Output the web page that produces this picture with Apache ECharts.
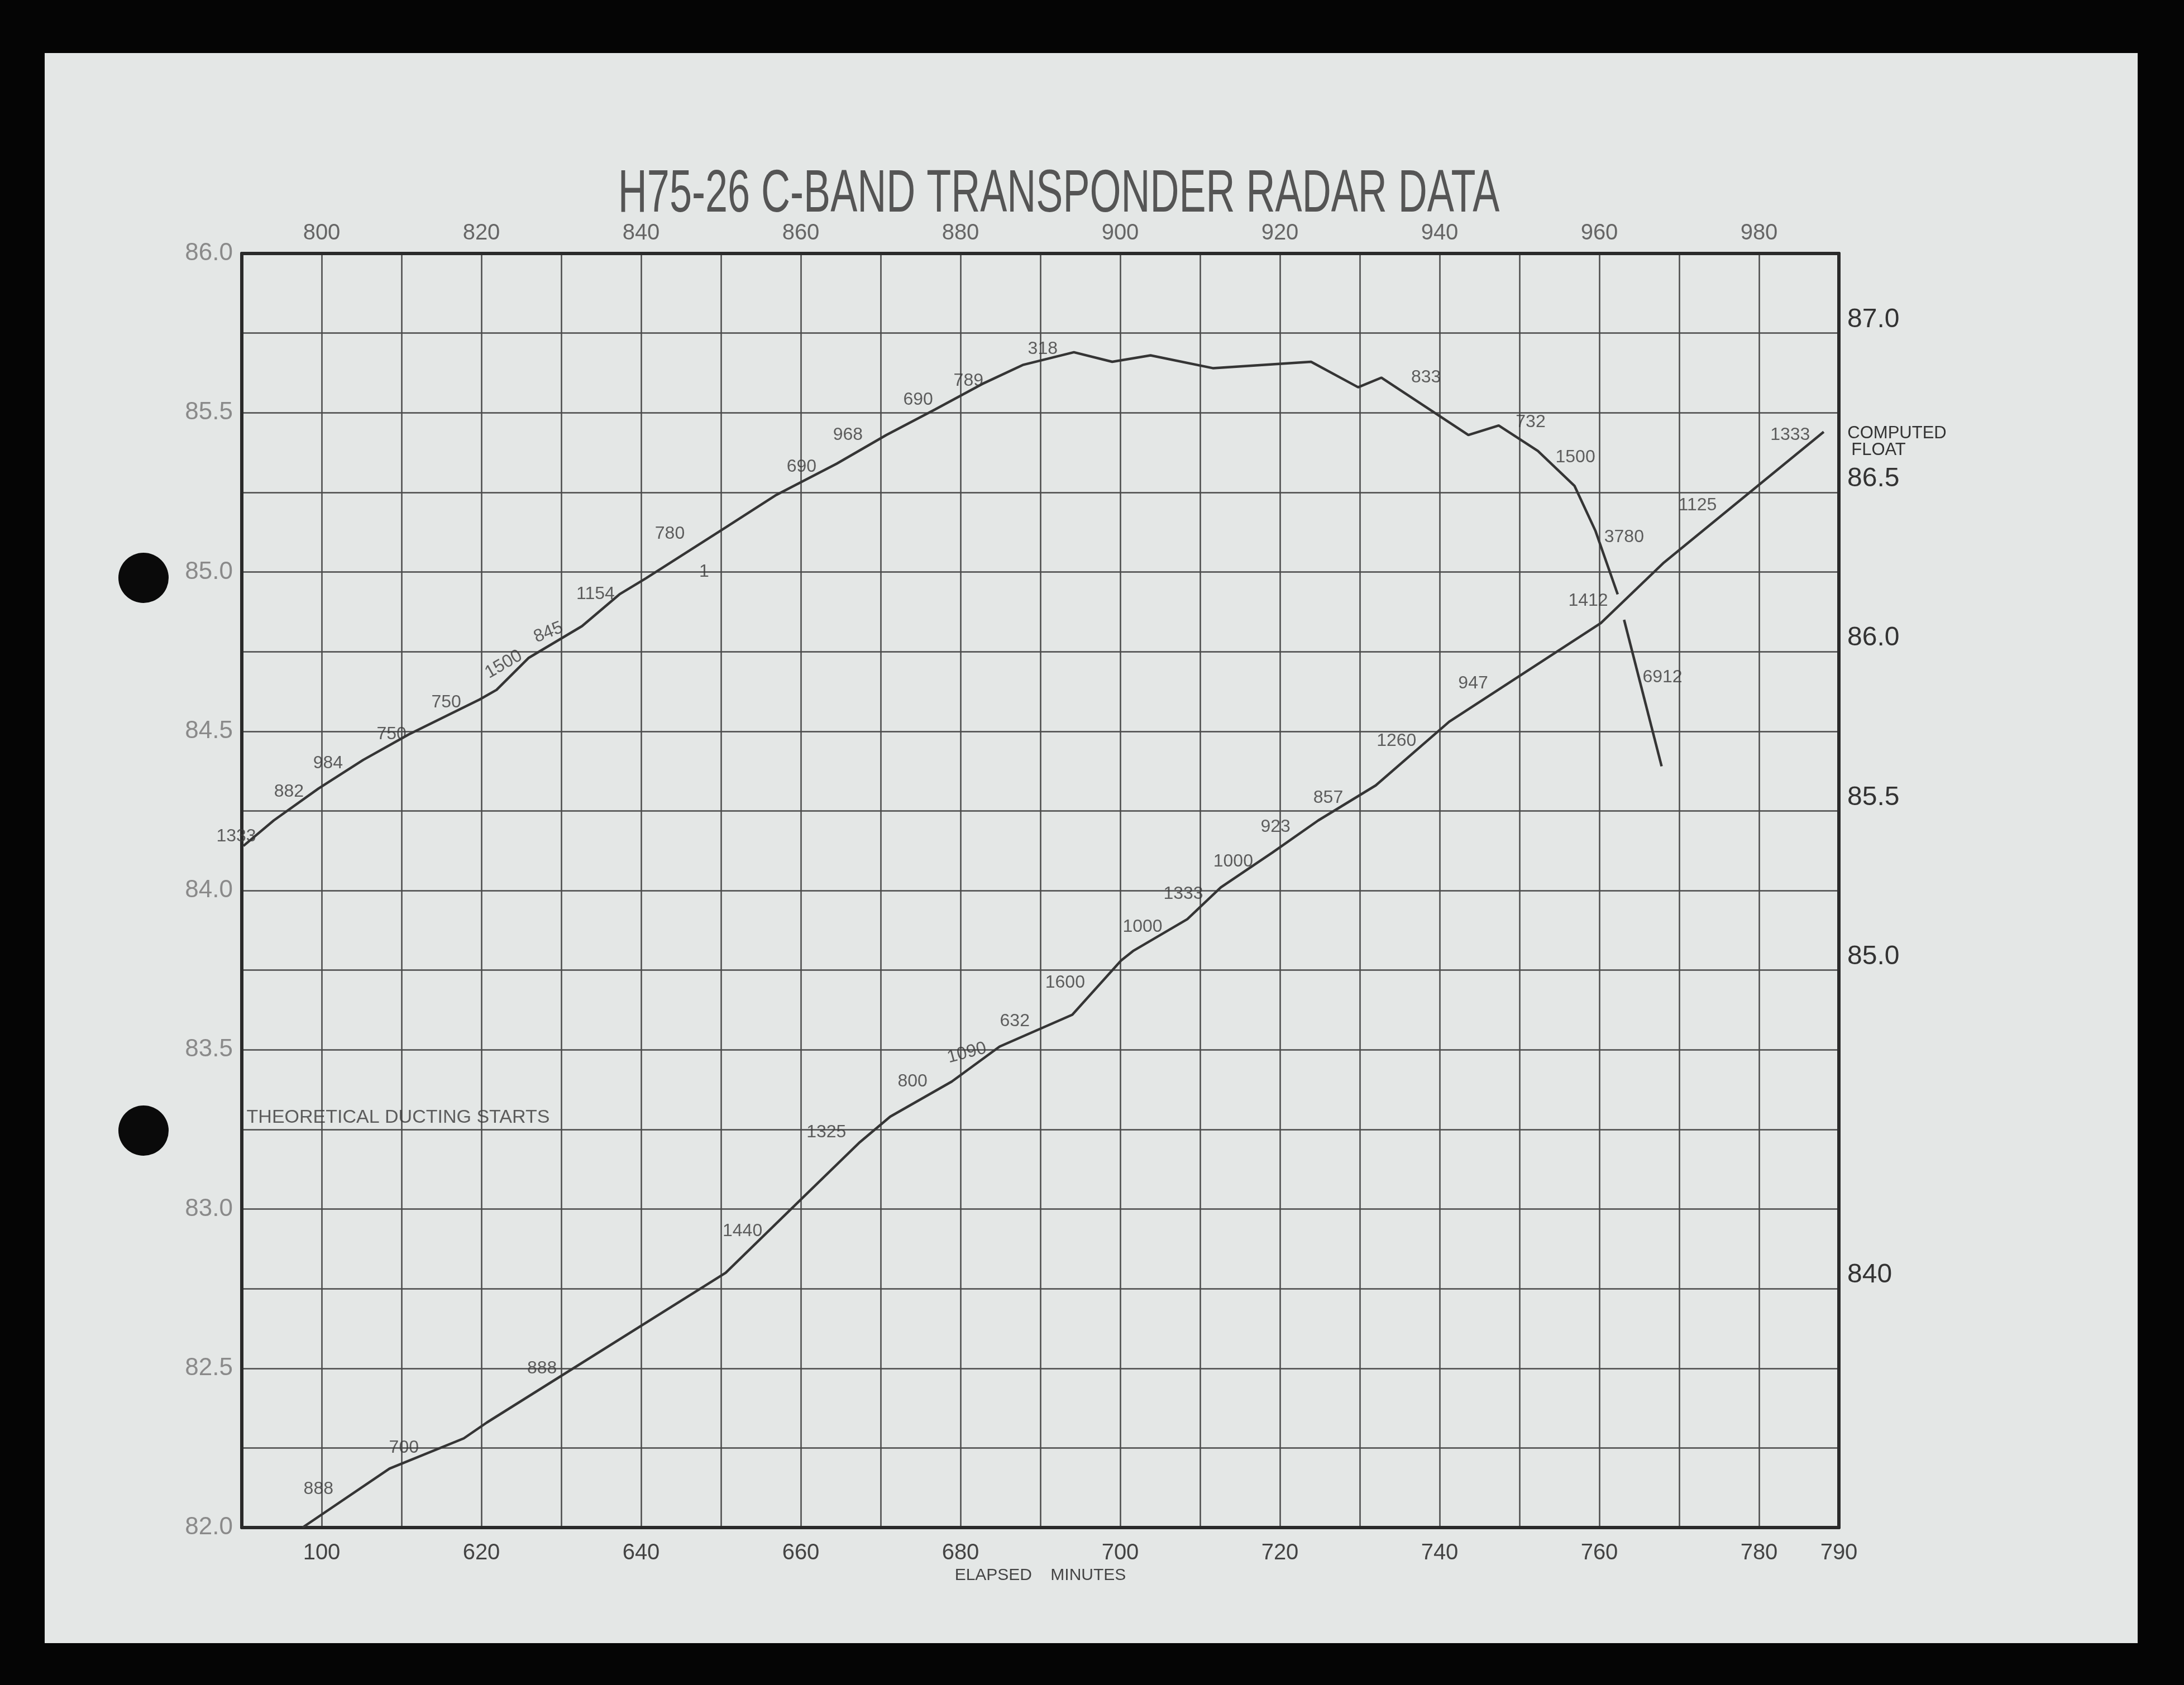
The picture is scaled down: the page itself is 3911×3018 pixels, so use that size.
<!DOCTYPE html>
<html><head><meta charset="utf-8">
<script src="https://cdn.jsdelivr.net/npm/echarts@6/dist/echarts.min.js"></script>
<style>html,body{margin:0;padding:0;background:#050505;}#c{width:3911px;height:3018px;}</style>
</head><body><div id="c"></div>
<script>
// ---------- data ----------
// upper curve: top axis (790-990) vs left axis (82-86)
const upperMinutes = [790.2, 794.0, 799.6, 805.2, 810.9, 819.8, 821.9, 825.9, 832.6, 837.3, 840.6, 850.6, 856.8, 864.5, 870.7, 876.8, 882.7, 887.8, 894.2, 899.0, 903.8, 911.6, 923.9, 929.8, 932.7, 943.6, 947.4, 952.3, 956.9, 959.5, 962.3];
const upperValues  = [84.14, 84.22, 84.32, 84.41, 84.49, 84.60, 84.63, 84.73, 84.83, 84.93, 84.98, 85.14, 85.24, 85.34, 85.43, 85.51, 85.59, 85.65, 85.69, 85.66, 85.68, 85.64, 85.66, 85.58, 85.61, 85.43, 85.46, 85.38, 85.27, 85.13, 84.93];
const upperTailMinutes = [963.1, 967.8];
const upperTailValues  = [84.85, 84.39];
// lower curve: bottom axis (590-790) vs right axis (83.25-87.25)
const lowerMinutes = [597.6, 608.5, 617.8, 620.7, 650.6, 659.6, 667.4, 671.2, 678.9, 684.9, 694.0, 700.1, 701.6, 708.4, 712.6, 719.1, 724.8, 732.0, 741.2, 760.2, 768.1, 788.1];
const lowerValues  = [83.25, 83.435, 83.53, 83.58, 84.05, 84.27, 84.46, 84.54, 84.65, 84.76, 84.86, 85.03, 85.06, 85.16, 85.26, 85.37, 85.47, 85.58, 85.78, 86.09, 86.28, 86.69];
// point annotations
const upperLabelText    = ['1333','882','984','750','750','1500','845','1154','780','1','690','968','690','789','318','833','732','1500','3780','6912'];
const upperLabelMinutes = [789.3, 795.9, 800.8, 808.75, 815.6, 822.8, 828.4, 834.3, 843.6, 847.9, 860.1, 865.9, 874.7, 881.0, 890.3, 938.3, 951.4, 957.0, 963.1, 967.9];
const upperLabelValues  = [84.17, 84.31, 84.40, 84.49, 84.59, 84.71, 84.81, 84.93, 85.12, 85.00, 85.33, 85.43, 85.54, 85.60, 85.70, 85.61, 85.47, 85.36, 85.11, 84.67];
const lowerLabelText    = ['888','700','888','1440','1325','800','1090','632','1600','1000','1333','1000','923','857','1260','947','1412','1125','1333'];
const lowerLabelMinutes = [599.6, 610.3, 627.6, 652.7, 663.2, 674.0, 680.8, 686.8, 693.1, 702.8, 707.9, 714.15, 719.45, 726.05, 734.6, 744.2, 758.6, 772.3, 783.9];
const lowerLabelValues  = [83.37, 83.50, 83.75, 84.18, 84.49, 84.65, 84.74, 84.84, 84.96, 85.135, 85.24, 85.34, 85.45, 85.54, 85.72, 85.90, 86.16, 86.46, 86.68];
const ductingText = 'THEORETICAL DUCTING STARTS';
const ductingAt = [590.6, 83.25];
// tick labels
const bottomTickValues = [600, 620, 640, 660, 680, 700, 720, 740, 760, 780, 790];
const bottomTickText   = ['100','620','640','660','680','700','720','740','760','780','790'];
const topTickValues = [800, 820, 840, 860, 880, 900, 920, 940, 960, 980];
const topTickText   = ['800','820','840','860','880','900','920','940','960','980'];
const leftTickValues = [82.0, 82.5, 83.0, 83.5, 84.0, 84.5, 85.0, 85.5, 86.0];
const leftTickText   = ['82.0','82.5','83.0','83.5','84.0','84.5','85.0','85.5','86.0'];
const rightTickValues = [84.0, 85.0, 85.5, 86.0, 86.5, 87.0];
const rightTickText   = ['840','85.0','85.5','86.0','86.5','87.0'];
const titleText = 'H75-26 C-BAND TRANSPONDER RADAR DATA';
const xName = 'ELAPSED    MINUTES';

// ---------- styles ----------
const FONT = '"Liberation Sans", Arial, sans-serif';
const upperRot = {5: 30, 6: 22};
const lowerRot = {6: 15};

function lookup(vals, texts) {
  return function (v) {
    for (let i = 0; i < vals.length; i++) if (Math.abs(vals[i] - v) < 1e-6) return texts[i];
    return '';
  };
}
function pairs(xs, ys) { return xs.map((x, i) => [x, ys[i]]); }
function labelData(texts, xs, ys, rot) {
  return texts.map((t, i) => {
    const d = {name: t, value: [xs[i], ys[i]]};
    if (rot[i] !== undefined) d.label = {rotate: rot[i]};
    return d;
  });
}
const frameLine = {show: true, onZero: false, lineStyle: {color: '#2a2a2a', width: 6}};
const gridLine = {show: true, lineStyle: {color: '#4a4a4a', width: 2.5}};

const chart = echarts.init(document.getElementById('c'), null, {renderer: 'canvas'});
const labelSeriesBase = {
  type: 'scatter', symbolSize: 0.1, itemStyle: {color: 'rgba(0,0,0,0)'}, clip: false, silent: true, z: 5,
  label: {show: true, position: 'inside', formatter: p => p.name, fontSize: 32, color: '#3a3a3a', fontFamily: FONT}
};

chart.setOption({
  backgroundColor: '#050505',
  animation: false,
  grid: {left: 433, top: 454, width: 2860, height: 2282, outerBoundsMode: 'none'},
  xAxis: [
    {type: 'value', position: 'bottom', min: 590, max: 790, interval: 10,
     axisLine: frameLine, axisTick: {show: false}, splitLine: gridLine,
     axisLabel: {formatter: lookup(bottomTickValues, bottomTickText), margin: 26, fontSize: 40, color: '#444', fontFamily: FONT, showMaxLabel: true, showMinLabel: false},
     name: xName, nameLocation: 'middle', nameGap: 58,
     nameTextStyle: {fontSize: 30, color: '#444', fontFamily: FONT}},
    {type: 'value', position: 'top', min: 790, max: 990, interval: 10,
     axisLine: frameLine, axisTick: {show: false}, splitLine: {show: false},
     axisLabel: {formatter: lookup(topTickValues, topTickText), margin: 16, fontSize: 40, color: '#666', fontFamily: FONT, showMaxLabel: false}}
  ],
  yAxis: [
    {type: 'value', position: 'left', min: 82, max: 86, interval: 0.25,
     axisLine: frameLine, axisTick: {show: false}, splitLine: gridLine,
     axisLabel: {formatter: lookup(leftTickValues, leftTickText), margin: 16, fontSize: 44, color: '#8a8a8a', fontFamily: FONT, showMaxLabel: true, showMinLabel: true}},
    {type: 'value', position: 'right', min: 83.25, max: 87.25, interval: 0.25,
     axisLine: frameLine, axisTick: {show: false}, splitLine: {show: false},
     axisLabel: {formatter: lookup(rightTickValues, rightTickText), margin: 15, fontSize: 48, color: '#333', fontFamily: FONT, verticalAlign: 'bottom'}}
  ],
  graphic: [
    {type: 'rect', z: -100, shape: {x: 80, y: 95, width: 3748, height: 2848}, style: {fill: '#e4e7e6'}},
    {type: 'circle', z: 50, shape: {cx: 257, cy: 1035, r: 45}, style: {fill: '#0a0a0a'}},
    {type: 'circle', z: 50, shape: {cx: 257, cy: 2025, r: 45}, style: {fill: '#0a0a0a'}},
    {type: 'text', z: 50, x: 1896, y: 349, scaleX: 0.667,
     style: {text: titleText, fontSize: 108, fontFamily: FONT, fill: '#555', align: 'center', textAlign: 'center', verticalAlign: 'middle', textVerticalAlign: 'middle'}},
    {type: 'text', z: 50, x: 3397, y: 776,
     style: {text: 'COMPUTED', fontSize: 31, fontFamily: FONT, fill: '#333', align: 'center', textAlign: 'center', verticalAlign: 'middle', textVerticalAlign: 'middle'}},
    {type: 'text', z: 50, x: 3364, y: 806,
     style: {text: 'FLOAT', fontSize: 31, fontFamily: FONT, fill: '#333', align: 'center', textAlign: 'center', verticalAlign: 'middle', textVerticalAlign: 'middle'}}
  ],
  series: [
    {type: 'line', xAxisIndex: 1, yAxisIndex: 0, data: pairs(upperMinutes, upperValues), symbol: 'none', lineStyle: {color: '#353535', width: 4.5}, z: 3},
    {type: 'line', xAxisIndex: 1, yAxisIndex: 0, data: pairs(upperTailMinutes, upperTailValues), symbol: 'none', lineStyle: {color: '#353535', width: 4.5}, z: 3},
    {type: 'line', xAxisIndex: 0, yAxisIndex: 1, data: pairs(lowerMinutes, lowerValues), symbol: 'none', lineStyle: {color: '#353535', width: 4.5}, z: 3},
    Object.assign({}, labelSeriesBase, {xAxisIndex: 1, yAxisIndex: 0, data: labelData(upperLabelText, upperLabelMinutes, upperLabelValues, upperRot)}),
    Object.assign({}, labelSeriesBase, {xAxisIndex: 0, yAxisIndex: 1, data: labelData(lowerLabelText, lowerLabelMinutes, lowerLabelValues, lowerRot)}),
    Object.assign({}, labelSeriesBase, {xAxisIndex: 0, yAxisIndex: 0,
      label: Object.assign({}, labelSeriesBase.label, {fontSize: 34, align: 'left', verticalAlign: 'bottom', offset: [0, -4]}),
      data: [{name: ductingText, value: ductingAt}]})
  ]
});
</script></body></html>
